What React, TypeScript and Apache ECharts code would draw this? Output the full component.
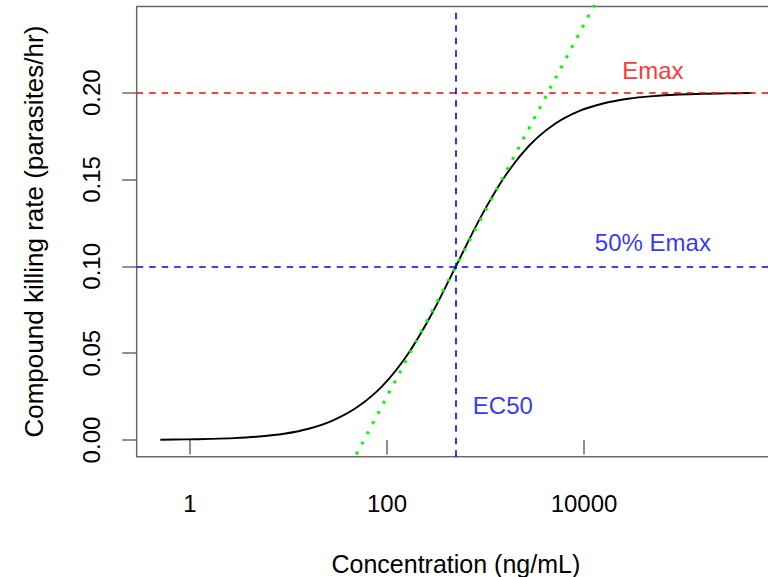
import React, { useEffect, useRef } from "react";
import * as echarts from "echarts";

// Concentration-response curve (ng/mL vs parasites/hr), roughly quarter-decade steps
const concentration = [
  0.5, 0.9, 1.6, 2.8, 5, 9, 16, 28, 50, 90, 160, 280, 500, 900, 1600, 2800,
  5000, 9000, 16000, 28000, 50000, 90000, 160000, 280000, 500000,
];
const killingRate = [
  0.0002, 0.00036, 0.00064, 0.0011, 0.002, 0.0036, 0.0065, 0.0112, 0.019,
  0.0312, 0.0488, 0.0718, 0.1, 0.1286, 0.1524, 0.1697, 0.1818, 0.1895,
  0.1939, 0.1965, 0.198, 0.1989, 0.1994, 0.1996, 0.1998,
];

// Reference values
const emax = 0.2;
const halfEmax = 0.1;
const ec50 = 500;

// Tangent through the EC50 point
const tangentConc = [38, 15600];
const tangentRate = [-0.02, 0.26];

// Axes
const xTicks = [1, 100, 10000];
const yTicks = [0, 0.05, 0.1, 0.15, 0.2];
const yLimits = [0, 0.24];

// Text annotations
const annotationText = ["Emax", "50% Emax", "EC50"];
const annotationConc = [50000, 50000, 1500];
const annotationRate = [0.213, 0.1135, 0.02];
const annotationColor = ["#FF0000", "#0000FF", "#0000FF"];

const FONT = "'Liberation Sans', Arial, Helvetica, sans-serif";
const FRAME = "#6a6a6a";

export default function App() {
  const ref = useRef<HTMLDivElement>(null);

  useEffect(() => {
    if (!ref.current) return;
    const chart = echarts.init(ref.current, null, { renderer: "svg" });

    // R-style 4% padding around the data range
    const lo = Math.log10(Math.min(...concentration));
    const hi = Math.log10(Math.max(...concentration));
    const pad = 0.04 * (hi - lo);
    const xMin = Math.pow(10, lo - pad);
    const xMax = Math.pow(10, hi + pad);
    const yPad = 0.04 * (yLimits[1] - yLimits[0]);
    const yMin = yLimits[0] - yPad;
    const yMax = yLimits[1] + yPad;

    const curve = concentration.map((c, i) => [c, killingRate[i]]);
    const tangent = tangentConc.map((c, i) => [c, tangentRate[i]]);
    const notes = annotationText.map((t, i) => ({
      value: [annotationConc[i], annotationRate[i]],
      label: { formatter: t, color: annotationColor[i] },
    }));

    const dashed = [6.5, 6];

    chart.setOption({
      animation: false,
      backgroundColor: "#ffffff",
      grid: {
        left: 136.7,
        top: 6.5,
        width: 638.3,
        height: 450.2,
        show: true,
        borderColor: FRAME,
        borderWidth: 1.5,
        backgroundColor: "transparent",
        containLabel: false,
        outerBoundsMode: "none",
      },
      xAxis: {
        type: "log",
        logBase: 10,
        min: xMin,
        max: xMax,
        axisLine: { show: false },
        axisTick: {
          show: true,
          customValues: xTicks,
          length: 14.4,
          lineStyle: { color: FRAME, width: 1.5 },
        },
        axisLabel: {
          customValues: xTicks,
          formatter: (v: number) => String(Math.round(v)),
          margin: 35,
          fontSize: 24,
          fontFamily: FONT,
          color: "#000",
        },
        splitLine: { show: false },
        minorTick: { show: false },
        name: "Concentration (ng/mL)",
        nameLocation: "middle",
        nameGap: 95,
        nameTextStyle: { fontSize: 25, fontFamily: FONT, color: "#000" },
      },
      yAxis: {
        type: "value",
        min: yMin,
        max: yMax,
        axisLine: { show: false },
        axisTick: {
          show: true,
          customValues: yTicks,
          length: 14.4,
          lineStyle: { color: FRAME, width: 1.5 },
        },
        axisLabel: {
          customValues: yTicks,
          formatter: (v: number) => v.toFixed(2),
          rotate: 90,
          margin: 33,
          fontSize: 24,
          fontFamily: FONT,
          color: "#000",
        },
        splitLine: { show: false },
        name: "Compound killing rate (parasites/hr)",
        nameLocation: "middle",
        nameRotate: 90,
        nameGap: 90,
        nameTextStyle: { fontSize: 26, fontFamily: FONT, color: "#000" },
      },
      series: [
        {
          type: "line",
          data: [],
          silent: true,
          markLine: {
            silent: true,
            symbol: "none",
            label: { show: false },
            data: [
              { yAxis: emax, lineStyle: { color: "#FF0000", width: 1.6, type: dashed } },
              { yAxis: halfEmax, lineStyle: { color: "#0000FF", width: 1.6, type: dashed } },
              { xAxis: ec50, lineStyle: { color: "#0000FF", width: 1.6, type: dashed } },
            ],
          },
        },
        {
          type: "line",
          data: curve,
          smooth: 0.35,
          showSymbol: false,
          symbol: "none",
          clip: true,
          lineStyle: { color: "#000", width: 1.9 },
        },
        {
          type: "line",
          data: tangent,
          showSymbol: false,
          symbol: "none",
          clip: true,
          lineStyle: { color: "#00FF00", width: 3, type: [3, 8.5], cap: "butt" },
        },
        {
          type: "scatter",
          data: notes,
          symbolSize: 1,
          itemStyle: { color: "transparent" },
          label: {
            show: true,
            position: "inside",
            align: "center",
            verticalAlign: "middle",
            fontSize: 24,
            fontFamily: FONT,
          },
        },
      ],
    });

    return () => chart.dispose();
  }, []);

  return (
    <div
      ref={ref}
      style={{ position: "absolute", left: 0, top: 0, width: 768, height: 577 }}
    />
  );
}
